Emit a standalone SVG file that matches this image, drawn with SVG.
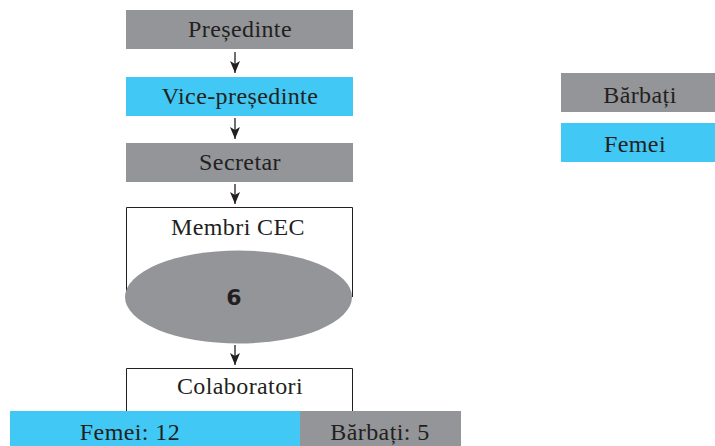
<svg xmlns="http://www.w3.org/2000/svg" width="715" height="446" viewBox="0 0 715 446">
<defs>
<marker id="ah" markerWidth="12" markerHeight="10" refX="12" refY="5" orient="auto" markerUnits="userSpaceOnUse" viewBox="0 0 12 10">
<path d="M0,0 L3,5 L0,10 L12,5 Z" fill="#231f20"/>
</marker>
<style>
.g{fill:#939598}
.b{fill:#41c8f4}
.t{font-family:"Liberation Serif","Times New Roman",serif;font-size:24px;fill:#231f20;text-anchor:middle;letter-spacing:0.4px}
.o{fill:none;stroke:#231f20;stroke-width:1}
.c{stroke:#231f20;stroke-width:1.3;fill:none}
</style>
</defs>
<rect width="715" height="446" fill="#fff"/>
<g id="presedinte"><rect class="g" x="126" y="10" width="227" height="39"/><text class="t" x="240" y="37">Președinte</text></g>
<g id="vice"><rect class="b" x="126" y="77" width="227" height="39"/><text class="t" x="240" y="104">Vice-președinte</text></g>
<g id="secretar"><rect class="g" x="126" y="143" width="227" height="39"/><text class="t" x="240" y="170">Secretar</text></g>
<g id="membri"><path class="o" d="M126.5,297 V207.5 H352.5 V297"/><text class="t" x="238" y="235">Membri CEC</text>
<ellipse class="g" cx="238.5" cy="297" rx="113.5" ry="46.5"/>
<text x="234" y="305" font-family="'DejaVu Sans',sans-serif" font-weight="bold" font-size="22" fill="#231f20" text-anchor="middle">6</text></g>
<g id="colaboratori"><path class="o" d="M126.5,411 V368.5 H352.5 V411"/><text class="t" x="240" y="394">Colaboratori</text></g>
<g id="femei-bar"><rect class="b" x="10" y="411" width="290" height="35"/><text class="t" x="130" y="440">Femei: 12</text></g>
<g id="barbati-bar"><rect class="g" x="300" y="411" width="161" height="35"/><text class="t" x="380" y="440">Bărbați: 5</text></g>
<g id="legend-barbati"><rect class="g" x="561" y="73" width="154" height="39"/><text class="t" x="640" y="103">Bărbați</text></g>
<g id="legend-femei"><rect class="b" x="561" y="123" width="154" height="39"/><text class="t" x="635" y="152">Femei</text></g>
<g id="connectors">
<line class="c" x1="235" y1="52" x2="235" y2="73" marker-end="url(#ah)"/>
<line class="c" x1="235" y1="118" x2="235" y2="139" marker-end="url(#ah)"/>
<line class="c" x1="235" y1="184" x2="235" y2="204" marker-end="url(#ah)"/>
<line class="c" x1="235" y1="345" x2="235" y2="365" marker-end="url(#ah)"/>
</g>
</svg>
